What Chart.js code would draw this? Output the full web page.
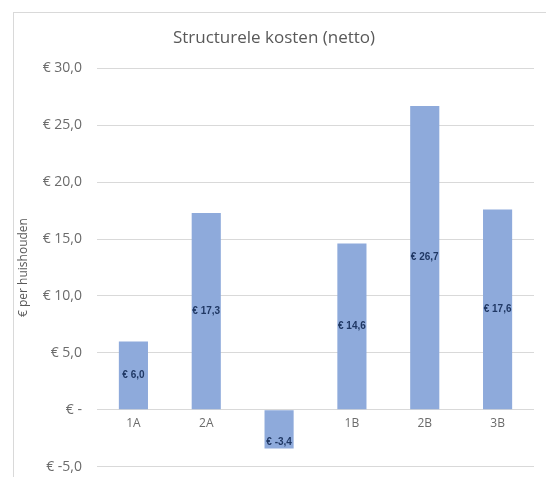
<!DOCTYPE html>
<html>
<head>
<meta charset="utf-8">
<script src="https://cdn.jsdelivr.net/npm/chart.js@4"></script>
<style>
  html, body { margin: 0; padding: 0; background: #fff; overflow: hidden; }
  #wrap { width: 546px; height: 477px; position: relative; overflow: hidden; }
</style>
</head>
<body>
<div id="wrap"><canvas id="kostenChart" width="546" height="490"></canvas></div>
<script>
// data
const categories = ["1A", "2A", "3A", "1B", "2B", "3B"];
const kosten = [6.0, 17.3, -3.4, 14.6, 26.7, 17.6];
const yMin = -5, yMax = 30, yStep = 5;

const fmtEuro = (v) => v === 0 ? "€ -" : "€ " + v.toFixed(1).replace(".", ",");

// light frame round the chart, like the Excel chart box
const framePlugin = {
  id: "frame",
  beforeDraw(chart) {
    const c = chart.ctx;
    c.save();
    c.fillStyle = "#fff";
    c.fillRect(0, 0, chart.width, chart.height);
    c.strokeStyle = "#d9d9d9";
    c.lineWidth = 1;
    c.strokeRect(13.5, 12.5, chart.width + 20, chart.height + 20);
    c.restore();
  }
};

// value labels in the bars
const labelPlugin = {
  id: "barLabels",
  afterDatasetsDraw(chart) {
    const c = chart.ctx;
    const meta = chart.getDatasetMeta(0);
    c.save();
    c.font = "bold 10px 'Liberation Sans', sans-serif";
    c.fillStyle = "#203864";
    c.textAlign = "center";
    c.textBaseline = "middle";
    meta.data.forEach((bar, i) => {
      const v = kosten[i];
      let y = (bar.y + bar.base) / 2;
      if (v < 0) y = bar.y - 6;
      c.fillText(fmtEuro(v), bar.x, y);
    });
    c.restore();
  }
};

const ctx = document.getElementById("kostenChart").getContext("2d");
new Chart(ctx, {
  type: "bar",
  data: {
    labels: categories,
    datasets: [{
      data: kosten,
      backgroundColor: "#8eaadb",
      borderWidth: 0,
      categoryPercentage: 1,
      barPercentage: 0.4
    }]
  },
  options: {
    responsive: false,
    animation: false,
    layout: { padding: { left: 14, top: 12, right: 12, bottom: 0 } },
    plugins: {
      legend: { display: false },
      tooltip: { enabled: false },
      title: {
        display: true,
        text: "Structurele kosten (netto)",
        color: "#595959",
        font: { family: "'Open Sans', sans-serif", size: 17, weight: "normal" },
        padding: { top: 16, bottom: 20 }
      }
    },
    scales: {
      x: {
        position: { y: 0 },
        grid: { display: false, drawTicks: false },
        border: { display: false },
        ticks: {
          color: "#6b6b6b",
          font: { family: "'Open Sans', sans-serif", size: 12 },
          padding: 7
        },
        afterFit(scale) { scale.height = 0; }
      },
      y: {
        min: yMin,
        max: yMax,
        grid: { color: "#d9d9d9", drawTicks: false },
        border: { display: false },
        ticks: {
          stepSize: yStep,
          color: "#6b6b6b",
          font: { family: "'Open Sans', sans-serif", size: 14 },
          padding: 15,
          callback: (v) => fmtEuro(v)
        },
        title: {
          display: true,
          text: "€ per huishouden",
          color: "#595959",
          font: { family: "'Open Sans', sans-serif", size: 12 },
          padding: { top: 2, bottom: 0 }
        },
        afterFit(scale) { scale.width = 83; }
      }
    }
  },
  plugins: [framePlugin, labelPlugin]
});
</script>
</body>
</html>
